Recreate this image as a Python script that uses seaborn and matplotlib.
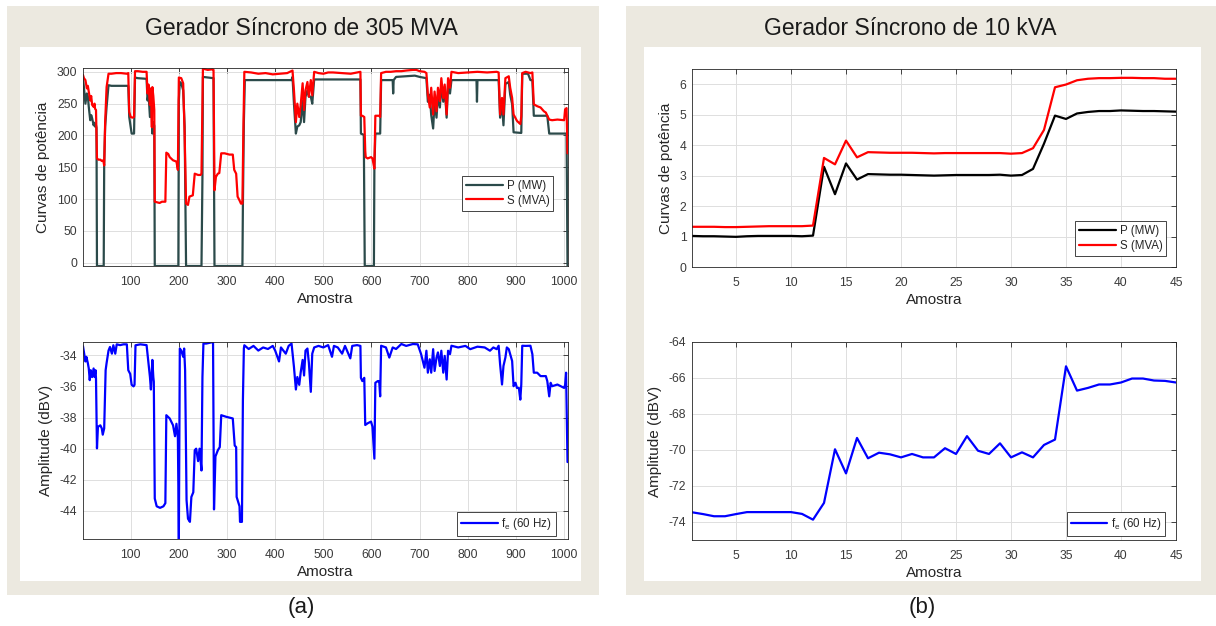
import matplotlib
matplotlib.use("Agg")
import matplotlib.pyplot as plt
from matplotlib.patches import Rectangle
import seaborn as sns
import pandas as pd

# ---------------- Gerador de 305 MVA (vertices: amostra, valor) ----------------
s_305 = [(1, 295), (3, 290), (6, 287), (9, 274), (11, 278), (13, 269), (16, 255), (18, 262), (20, 248),
         (23, 245), (25, 250), (26, 242), (28, 240), (30, 164), (33, 162), (37, 162), (40, 160), (43, 161),
         (45, 153), (47, 221), (50, 276), (54, 297), (60, 297), (70, 298), (80, 298), (92, 297), (95, 298),
         (97, 237), (100, 229), (104, 228), (107, 229), (109, 301), (115, 301), (125, 300), (133, 300),
         (135, 266), (137, 280), (140, 248), (142, 274), (144, 213), (145, 276), (147, 262), (149, 240),
         (150, 96), (155, 95), (160, 94), (165, 96), (172, 96), (174, 173), (178, 171), (181, 166), (188, 161),
         (195, 159), (198, 146), (200, 291), (205, 290), (209, 282), (212, 203), (215, 93), (219, 91),
         (222, 104), (229, 106), (233, 140), (240, 138), (245, 138), (247, 140), (250, 305), (255, 304),
         (260, 303), (270, 304), (272, 303), (274, 114), (277, 135), (281, 140), (284, 141), (288, 172),
         (295, 172), (305, 170), (312, 170), (315, 146), (319, 140), (322, 104), (326, 98), (329, 93),
         (332, 93), (334, 208), (336, 300), (350, 299), (365, 297), (380, 298), (395, 296), (410, 297),
         (425, 298), (436, 302), (439, 271), (443, 221), (446, 250), (450, 229), (453, 248), (457, 282),
         (460, 240), (463, 271), (467, 284), (470, 261), (474, 287), (477, 263), (481, 300), (490, 298),
         (500, 297), (510, 299), (520, 299), (540, 298), (557, 297), (570, 299), (577, 300), (578, 231),
         (581, 231), (585, 229), (587, 176), (588, 166), (592, 164), (599, 166), (602, 164), (606, 148),
         (608, 231), (613, 231), (616, 231), (618, 229), (620, 298), (630, 300), (640, 300), (651, 301),
         (662, 301), (672, 302), (686, 303), (693, 303), (700, 301), (710, 300), (714, 298), (717, 264),
         (721, 244), (724, 275), (728, 233), (731, 269), (735, 238), (738, 275), (742, 254), (745, 290),
         (749, 259), (752, 280), (756, 233), (759, 290), (763, 275), (766, 300), (780, 298), (800, 299),
         (820, 300), (840, 299), (860, 300), (864, 299), (867, 233), (871, 259), (874, 233), (878, 290),
         (885, 293), (888, 275), (892, 259), (895, 233), (902, 223), (906, 220), (909, 218), (911, 230),
         (913, 298), (920, 300), (930, 298), (934, 299), (937, 249), (944, 246), (951, 244), (958, 238),
         (962, 236), (965, 231), (969, 225), (975, 224), (986, 225), (1000, 224), (1002, 241), (1005, 243),
         (1007, 172)]

p_305 = [(1, 290), (3, 275), (6, 250), (9, 266), (11, 262), (13, 245), (16, 224), (18, 232), (20, 227),
         (23, 216), (25, 220), (26, 214), (28, 216), (29, 212), (30, -5), (44, -5), (45, 156), (47, 214),
         (50, 245), (54, 279), (60, 278), (92, 278), (95, 278), (97, 229), (102, 203), (107, 203), (109, 291),
         (115, 290), (133, 289), (135, 255), (137, 266), (140, 229), (143, 266), (145, 203), (147, 221),
         (149, 215), (150, -5), (199, -5), (200, 255), (202, 284), (205, 282), (209, 271), (212, 214),
         (215, -5), (247, -5), (249, 135), (250, 292), (272, 290), (274, -5), (332, -5), (333, 91),
         (335, 221), (337, 287), (434, 287), (436, 292), (439, 250), (443, 203), (446, 214), (450, 216),
         (453, 221), (457, 255), (460, 221), (463, 261), (467, 271), (470, 261), (474, 261), (477, 250),
         (481, 288), (577, 288), (578, 203), (584, 201), (586, -5), (605, -5), (606, 151), (608, 203),
         (618, 203), (620, 287), (644, 287), (645, 266), (646, 287), (651, 292), (690, 294), (700, 292),
         (714, 290), (717, 253), (721, 264), (724, 232), (728, 211), (731, 253), (735, 228), (738, 264),
         (742, 244), (745, 281), (749, 253), (752, 276), (756, 228), (759, 281), (763, 266), (766, 287),
         (818, 287), (819, 253), (820, 287), (864, 287), (867, 228), (871, 249), (874, 216), (878, 281),
         (885, 284), (888, 264), (892, 249), (895, 205), (911, 204), (913, 297), (925, 297), (930, 287),
         (934, 287), (937, 231), (965, 231), (969, 203), (1005, 203), (1007, -5)]

fe_305 = [(1, -33.42), (3, -33.8), (6, -34.4), (8, -34.1), (11, -34.5), (13, -34.85), (15, -35.6),
          (17, -34.96), (20, -35.4), (23, -34.85), (25, -35.4), (27, -34.96), (28, -35.5), (30, -39.98),
          (32, -38.6), (37, -38.5), (40, -38.7), (42, -39.1), (45, -38.7), (48, -34.96), (50, -34.5),
          (54, -33.7), (57, -33.47), (61, -33.9), (64, -33.36), (68, -33.9), (71, -33.3), (78, -33.35),
          (85, -33.3), (92, -33.3), (95, -34.96), (99, -35.2), (102, -35.9), (106, -36.0), (108, -35.9),
          (110, -33.36), (120, -33.3), (133, -33.35), (137, -34.5), (140, -35.4), (142, -36.2), (145, -34.3),
          (147, -35.4), (148, -35.7), (150, -43.2), (154, -43.7), (161, -43.8), (168, -43.7), (172, -43.5),
          (174, -37.85), (181, -38.06), (188, -38.5), (192, -39.2), (195, -38.4), (198, -39.3), (200, -45.8),
          (202, -33.57), (205, -33.7), (209, -34.1), (211, -33.57), (213, -34.96), (216, -43.3), (219, -44.5),
          (223, -44.7), (226, -43.1), (230, -42.8), (233, -40.1), (236, -40.0), (240, -40.8), (243, -40.0),
          (247, -41.4), (249, -35.4), (251, -33.25), (257, -33.25), (264, -33.2), (271, -33.15), (273, -43.9),
          (276, -40.5), (281, -40.1), (285, -39.9), (288, -37.85), (298, -37.95), (312, -38.06), (316, -39.8),
          (319, -39.9), (320, -43.1), (326, -43.7), (327, -44.7), (331, -44.7), (333, -36.9), (335, -33.57),
          (336, -33.36), (345, -33.6), (355, -33.4), (365, -33.7), (375, -33.5), (385, -33.6), (395, -33.4),
          (400, -33.7), (408, -34.4), (412, -33.5), (422, -33.9), (428, -33.4), (434, -33.25), (439, -34.75),
          (443, -36.2), (446, -35.4), (450, -35.9), (453, -35.1), (457, -34.3), (460, -35.3), (463, -33.7),
          (467, -33.57), (470, -34.5), (474, -36.35), (477, -33.9), (481, -33.5), (490, -33.4), (500, -33.5),
          (510, -33.35), (518, -34.1), (522, -33.4), (530, -33.5), (539, -33.9), (545, -33.4), (556, -34.2),
          (560, -33.4), (570, -33.35), (577, -33.4), (578, -35.45), (581, -35.66), (585, -35.45), (587, -38.48),
          (592, -38.37), (599, -38.26), (602, -38.59), (606, -40.64), (608, -35.77), (613, -35.66),
          (616, -35.66), (618, -36.64), (620, -33.39), (630, -33.5), (637, -34.15), (644, -33.5), (651, -33.6),
          (662, -33.28), (672, -33.4), (686, -33.28), (696, -33.3), (703, -33.93), (710, -34.8), (714, -33.71),
          (717, -35.12), (721, -34.26), (724, -35.12), (728, -33.61), (731, -35.01), (735, -34.15),
          (738, -33.82), (742, -34.69), (745, -33.71), (749, -35.12), (752, -34.04), (756, -35.56),
          (759, -33.71), (763, -33.93), (766, -33.39), (780, -33.5), (795, -33.4), (805, -33.61), (820, -33.45),
          (835, -33.5), (846, -33.71), (853, -33.5), (860, -33.61), (864, -33.39), (867, -34.58), (871, -35.88),
          (874, -34.69), (878, -34.15), (881, -33.5), (885, -33.61), (888, -33.93), (892, -34.37), (895, -35.99),
          (899, -35.77), (902, -36.1), (906, -36.1), (909, -36.85), (911, -35.88), (913, -33.39), (920, -33.4),
          (930, -33.39), (934, -33.93), (937, -35.12), (944, -35.12), (951, -35.34), (962, -35.34),
          (965, -35.66), (969, -36.64), (972, -35.77), (975, -35.99), (986, -35.88), (1000, -36.1),
          (1002, -35.9), (1004, -35.12), (1007, -40.86)]

# ---------------- Gerador de 10 kVA (45 amostras) ----------------
amostra_10 = list(range(1, 46))
p_10 = [1.02, 1.01, 1.01, 1.00, 0.99, 1.01, 1.02, 1.02, 1.02, 1.02, 1.01, 1.03, 3.29, 2.39, 3.40, 2.87,
        3.05, 3.04, 3.03, 3.03, 3.02, 3.01, 3.00, 3.01, 3.02, 3.02, 3.02, 3.02, 3.03, 3.00, 3.02, 3.22,
        4.05, 4.97, 4.86, 5.04, 5.09, 5.12, 5.12, 5.14, 5.13, 5.12, 5.12, 5.11, 5.10]
s_10 = [1.32, 1.32, 1.32, 1.31, 1.31, 1.32, 1.33, 1.34, 1.34, 1.34, 1.34, 1.36, 3.58, 3.37, 4.15, 3.60,
        3.77, 3.76, 3.75, 3.75, 3.75, 3.74, 3.73, 3.74, 3.74, 3.74, 3.74, 3.74, 3.74, 3.72, 3.74, 3.90,
        4.50, 5.90, 5.99, 6.13, 6.18, 6.20, 6.20, 6.21, 6.21, 6.20, 6.20, 6.18, 6.18]
fe_10 = [-73.46, -73.56, -73.68, -73.68, -73.56, -73.45, -73.45, -73.45, -73.45, -73.45, -73.55, -73.87,
         -72.94, -69.96, -71.30, -69.33, -70.46, -70.15, -70.24, -70.41, -70.22, -70.41, -70.41, -69.90,
         -70.22, -69.23, -70.04, -70.22, -69.63, -70.41, -70.13, -70.41, -69.72, -69.42, -65.35, -66.70,
         -66.55, -66.36, -66.36, -66.25, -66.03, -66.03, -66.14, -66.16, -66.25]

titulos = ['Gerador Síncrono de 305 MVA', 'Gerador Síncrono de 10 kVA']
rotulos = ['(a)', '(b)']

sns.set_style("white")
plt.rcParams['font.family'] = ['Liberation Sans', 'DejaVu Sans']
plt.rcParams['axes.unicode_minus'] = False
plt.rcParams['mathtext.fontset'] = 'custom'
plt.rcParams['mathtext.rm'] = 'Liberation Sans'
plt.rcParams['mathtext.it'] = 'Liberation Sans'

W, H = 1216, 626
fig = plt.figure(figsize=(W / 100, H / 100), dpi=100)
fig.patch.set_facecolor('white')


def caixa(x0, y0, x1, y1, cor):
    # retangulo em pixels (origem no topo)
    fig.add_artist(Rectangle((x0 / W, 1 - y1 / H), (x1 - x0) / W, (y1 - y0) / H,
                             transform=fig.transFigure, facecolor=cor, edgecolor='none', zorder=0))


def eixo(x0, y0, x1, y1):
    return fig.add_axes([x0 / W, 1 - y1 / H, (x1 - x0) / W, (y1 - y0) / H])


def estilo(ax, xlim, ylim, xticks, yticks, ylabel):
    ax.set_xlim(xlim)
    ax.set_ylim(ylim)
    ax.set_xticks(xticks)
    ax.set_yticks(yticks)
    ax.grid(True, color='#dedede', lw=0.7)
    ax.set_axisbelow(True)
    ax.tick_params(direction='in', top=True, right=True, length=3.5, width=0.6,
                   labelsize=8.7, color='#262626', labelcolor='#3a3a3a')
    ax.tick_params(axis='x', pad=7)
    ax.tick_params(axis='y', pad=4)
    for sp in ax.spines.values():
        sp.set_color('#262626')
        sp.set_linewidth(0.6)
    ax.set_xlabel('Amostra', fontsize=11, color='#262626', labelpad=3)
    ax.set_ylabel(ylabel, fontsize=11, color='#262626', labelpad=5)


def legenda(ax, anchor):
    leg = ax.legend(loc='lower right', bbox_to_anchor=anchor, fontsize=8.3, frameon=True,
                    fancybox=False, framealpha=1, edgecolor='#262626', borderaxespad=0,
                    handlelength=3.2, handletextpad=0.3, borderpad=0.35, labelspacing=0.25)
    leg.get_frame().set_linewidth(0.6)


# fundos bege + area branca
caixa(7, 6, 599, 595, '#ece9e0')
caixa(20, 47, 581, 581, 'white')
caixa(626, 6, 1216, 595, '#ece9e0')
caixa(644, 47, 1201, 581, 'white')

fig.text(301 / W, 1 - 35 / H, titulos[0], ha='center', va='baseline', fontsize=16.5, color='#1a1a1a')
fig.text(910 / W, 1 - 35 / H, titulos[1], ha='center', va='baseline', fontsize=16.5, color='#1a1a1a')
fig.text(301 / W, 1 - 608 / H, rotulos[0], ha='center', va='center', fontsize=16, color='#1a1a1a')
fig.text(922 / W, 1 - 608 / H, rotulos[1], ha='center', va='center', fontsize=16, color='#1a1a1a')

df_p = pd.DataFrame(p_305, columns=['amostra', 'valor'])
df_s = pd.DataFrame(s_305, columns=['amostra', 'valor'])
df_f = pd.DataFrame(fe_305, columns=['amostra', 'valor'])

# (a) curvas de potencia
ax1 = eixo(83, 68, 568, 266)
sns.lineplot(data=df_p, x='amostra', y='valor', ax=ax1, color='#2b4a4a', lw=1.6,
             estimator=None, sort=False, label='P (MW)')
sns.lineplot(data=df_s, x='amostra', y='valor', ax=ax1, color='#ff0000', lw=1.6,
             estimator=None, sort=False, label='S (MVA)')
estilo(ax1, (1, 1008), (-5, 306), range(100, 1001, 100), range(0, 301, 50), 'Curvas de potência')
legenda(ax1, (0.97, 0.28))

# (a) amplitude
ax2 = eixo(83, 342, 568, 539)
sns.lineplot(data=df_f, x='amostra', y='valor', ax=ax2, color='#0000ff', lw=1.6,
             estimator=None, sort=False, label=r'f$_{\mathregular{e}}$ (60 Hz)')
estilo(ax2, (1, 1008), (-45.8, -33.15), range(100, 1001, 100), range(-44, -33, 2), 'Amplitude (dBV)')
legenda(ax2, (0.975, 0.015))

# (b) curvas de potencia
df10 = pd.DataFrame({'amostra': amostra_10, 'P': p_10, 'S': s_10, 'fe': fe_10})
ax3 = eixo(692, 69, 1176, 267)
sns.lineplot(data=df10, x='amostra', y='P', ax=ax3, color='black', lw=1.6, estimator=None, label='P (MW)')
sns.lineplot(data=df10, x='amostra', y='S', ax=ax3, color='#ff0000', lw=1.6, estimator=None, label='S (MVA)')
estilo(ax3, (1, 45), (0, 6.5), range(5, 46, 5), range(0, 7), 'Curvas de potência')
legenda(ax3, (0.98, 0.056))

# (b) amplitude
ax4 = eixo(692, 342, 1176, 540)
sns.lineplot(data=df10, x='amostra', y='fe', ax=ax4, color='#0000ff', lw=1.6, estimator=None,
             label=r'f$_{\mathregular{e}}$ (60 Hz)')
estilo(ax4, (1, 45), (-75, -64), range(5, 46, 5), range(-74, -63, 2), 'Amplitude (dBV)')
legenda(ax4, (0.978, 0.02))

fig.savefig('out.png', dpi=100)
